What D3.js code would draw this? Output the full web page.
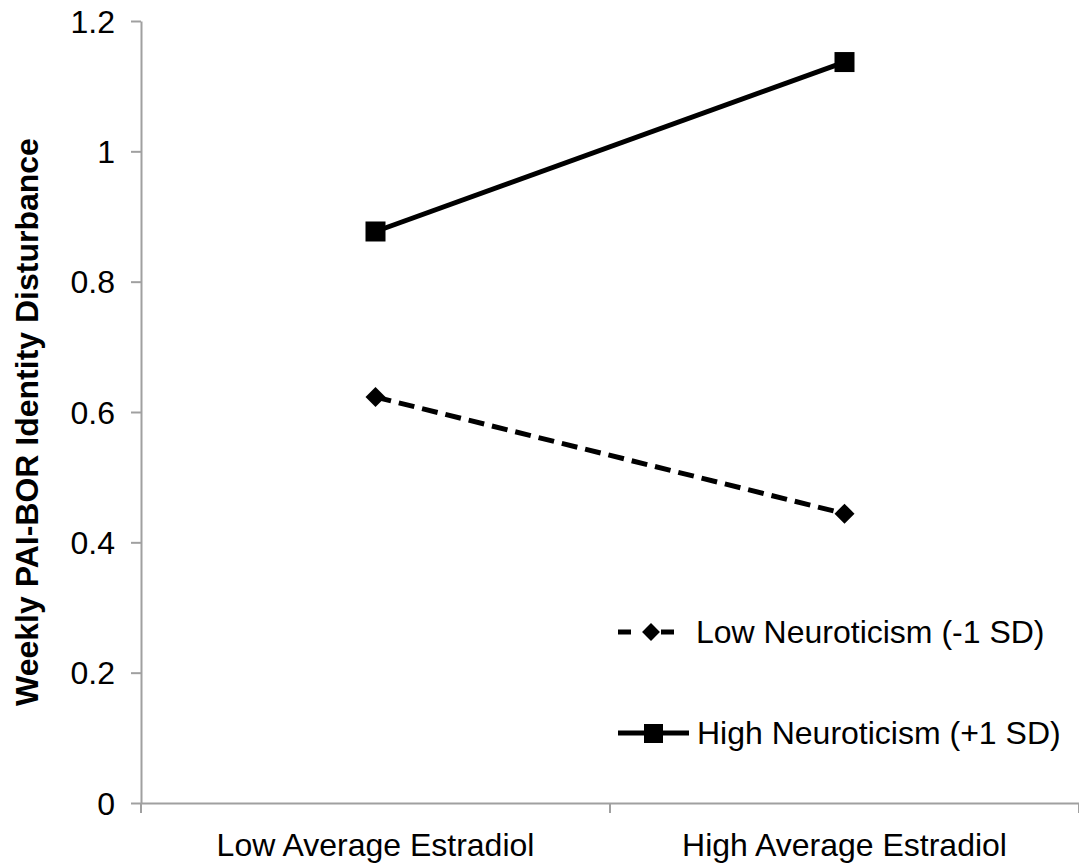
<!DOCTYPE html>
<html><head><meta charset="utf-8">
<script src="https://cdn.jsdelivr.net/npm/d3@7"></script>
<style>body{margin:0;background:#fff}svg{display:block}text{font-family:"Liberation Sans",Arial,sans-serif}</style>
</head><body>
<svg id="c" width="1079" height="865"></svg>
<script>
const categories = ["Low Average Estradiol", "High Average Estradiol"];
const lowNeuro = [0.623, 0.444];
const highNeuro = [0.877, 1.137];
const seriesNames = ["Low Neuroticism (-1 SD)", "High Neuroticism (+1 SD)"];
const yTicks = [0, 0.2, 0.4, 0.6, 0.8, 1, 1.2];
const yTitle = "Weekly PAI-BOR Identity Disturbance";

const svg = d3.select("#c");
const L = 141, R = 1079, T = 21, B = 803;
const FS = 32;
const x = d3.scaleBand().domain(categories).range([L, R]);
const y = d3.scaleLinear().domain([0, 1.2]).range([B, T]);
const axisColor = "#a0a0a0";

// y axis
const ya = svg.append("g").attr("transform", `translate(${L},0)`)
  .call(d3.axisLeft(y).tickValues(yTicks).tickSize(10).tickSizeOuter(0).tickPadding(16).tickFormat(d => d3.format("")(d)));
ya.select(".domain").attr("stroke", axisColor).attr("stroke-width", 2);
ya.selectAll(".tick line").attr("stroke", axisColor).attr("stroke-width", 2);
ya.selectAll(".tick text").attr("font-size", FS).attr("fill", "#000").attr("dy", "0.35em");

// x axis
const xa = svg.append("g").attr("transform", `translate(0,${B})`)
  .call(d3.axisBottom(x).tickSize(0).tickSizeOuter(0).tickPadding(30));
xa.select(".domain").attr("stroke", axisColor).attr("stroke-width", 2);
xa.selectAll(".tick text").attr("font-size", FS).attr("fill", "#000");
// band boundary ticks
const bounds = [L, L + x.bandwidth(), R];
svg.append("g").selectAll("line").data(bounds).join("line")
  .attr("x1", d => d).attr("x2", d => d).attr("y1", B).attr("y2", B + 10)
  .attr("stroke", axisColor).attr("stroke-width", 2);

// y title
svg.append("text").attr("transform", `translate(38,422) rotate(-90)`)
  .attr("text-anchor", "middle").attr("font-size", FS).attr("font-weight", "bold").text(yTitle);

const cx = c => x(c) + x.bandwidth() / 2;
const line = d3.line().x(d => cx(d.c)).y(d => y(d.v));
const lowData = categories.map((c, i) => ({c, v: lowNeuro[i]}));
const highData = categories.map((c, i) => ({c, v: highNeuro[i]}));

svg.append("path").datum(lowData).attr("d", line).attr("fill", "none")
  .attr("stroke", "#000").attr("stroke-width", 5).attr("stroke-dasharray", "16,8");
svg.append("path").datum(highData).attr("d", line).attr("fill", "none")
  .attr("stroke", "#000").attr("stroke-width", 5);

const diamond = d3.symbol().type(d3.symbolSquare).size(200);
svg.append("g").selectAll("path").data(lowData).join("path")
  .attr("d", diamond).attr("transform", d => `translate(${cx(d.c)},${y(d.v)}) rotate(45)`).attr("fill", "#000");
svg.append("g").selectAll("rect").data(highData).join("rect")
  .attr("x", d => cx(d.c) - 10).attr("y", d => y(d.v) - 10).attr("width", 20).attr("height", 20).attr("fill", "#000");

// legend
const lg = svg.append("g");
lg.append("line").attr("x1", 618).attr("x2", 684).attr("y1", 632).attr("y2", 632)
  .attr("stroke", "#000").attr("stroke-width", 5).attr("stroke-dasharray", "13,10,0,20,13");
lg.append("path").attr("d", d3.symbol().type(d3.symbolSquare).size(160)).attr("transform", "translate(651,632) rotate(45)").attr("fill", "#000");
lg.append("text").attr("x", 696).attr("y", 632).attr("dy", "0.35em").attr("font-size", FS).text(seriesNames[0]);
lg.append("line").attr("x1", 618).attr("x2", 689).attr("y1", 733).attr("y2", 733)
  .attr("stroke", "#000").attr("stroke-width", 5);
lg.append("rect").attr("x", 644).attr("y", 724).attr("width", 19).attr("height", 19).attr("fill", "#000");
lg.append("text").attr("x", 697).attr("y", 733).attr("dy", "0.35em").attr("font-size", FS).text(seriesNames[1]);
</script>
</body></html>
